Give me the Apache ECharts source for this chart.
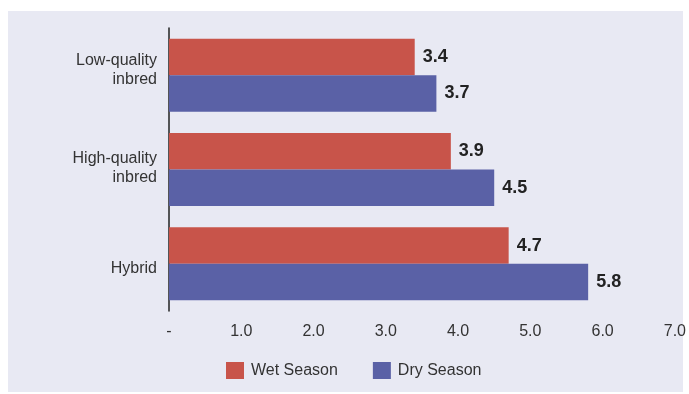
<!DOCTYPE html>
<html>
<head>
<meta charset="utf-8">
<script src="https://cdn.jsdelivr.net/npm/echarts@6/dist/echarts.min.js"></script>
<style>
  html, body { margin: 0; padding: 0; background: #fff; }
  #chart { width: 689px; height: 394px; }
</style>
</head>
<body>
<div id="chart"></div>
<script>
  var categories = ['Low-quality\ninbred', 'High-quality\ninbred', 'Hybrid']
  var wetSeason = [3.4, 3.9, 4.7]
  var drySeason = [3.7, 4.5, 5.8]
  var seriesNames = ['Wet Season', 'Dry Season']
  var colors = ['#C8544A', '#5A61A6']

  var myChart = echarts.init(document.getElementById('chart'))

  var valueLabel = {
    show: true,
    position: 'right',
    distance: 8,
    color: '#222',
    fontSize: 18,
    fontWeight: 'bold',
    fontFamily: 'Liberation Sans, Arial, sans-serif',
    formatter: function (p) { return p.value.toFixed(1) }
  }

  var labelText = { fontSize: 16, lineHeight: 19, color: '#333', fontFamily: 'Liberation Sans, Arial, sans-serif' }
  // the original's labels sit a little off the bar centres: nudge with spacer lines
  var rich = {
    n: Object.assign({}, labelText),
    sp10: { fontSize: 1, lineHeight: 10 },
    sp2: { fontSize: 1, lineHeight: 2 }
  }

  var option = {
    backgroundColor: '#fff',
    color: colors,
    textStyle: { fontFamily: 'Liberation Sans, Arial, sans-serif' },
    graphic: [{
      type: 'rect',
      z: -10,
      shape: { x: 8, y: 11, width: 675, height: 381 },
      style: { fill: '#E8E9F3' }
    }],
    grid: { left: 169, right: 12, top: 28, bottom: 83 },
    legend: {
      data: seriesNames,
      left: 221,
      top: 357,
      itemWidth: 18,
      itemHeight: 17,
      itemGap: 35,
      icon: 'rect',
      textStyle: { fontSize: 16, color: '#333', padding: [0, 0, 0, 2] }
    },
    xAxis: {
      type: 'value',
      min: 0,
      max: 7,
      interval: 1,
      axisLine: { show: false },
      axisTick: { show: false },
      splitLine: { show: false },
      axisLabel: {
        margin: 13,
        fontSize: 16,
        color: '#333',
        formatter: function (v) { return v === 0 ? '-' : v.toFixed(1) }
      }
    },
    yAxis: {
      type: 'category',
      inverse: true,
      data: categories,
      axisLine: { show: true, lineStyle: { color: '#222', width: 1.5 } },
      axisTick: { show: false },
      axisLabel: {
        margin: 12,
        fontSize: 16,
        lineHeight: 19,
        color: '#333',
        align: 'right',
        rich: rich,
        formatter: function (value, index) {
          var lines = value.split('\n').map(function (l) { return '{n|' + l + '}' })
          if (index === 0) lines.push('{sp10| }')
          if (index === 1) lines.push('{sp2| }')
          if (index === 2) lines.unshift('{sp10| }')
          return lines.join('\n')
        }
      }
    },
    series: [{
      name: seriesNames[0],
      type: 'bar',
      data: wetSeason,
      barGap: '0%',
      barCategoryGap: '22.6%',
      label: valueLabel
    }, {
      name: seriesNames[1],
      type: 'bar',
      data: drySeason,
      barGap: '0%',
      barCategoryGap: '22.6%',
      label: valueLabel
    }]
  }

  myChart.setOption(option)
</script>
</body>
</html>
